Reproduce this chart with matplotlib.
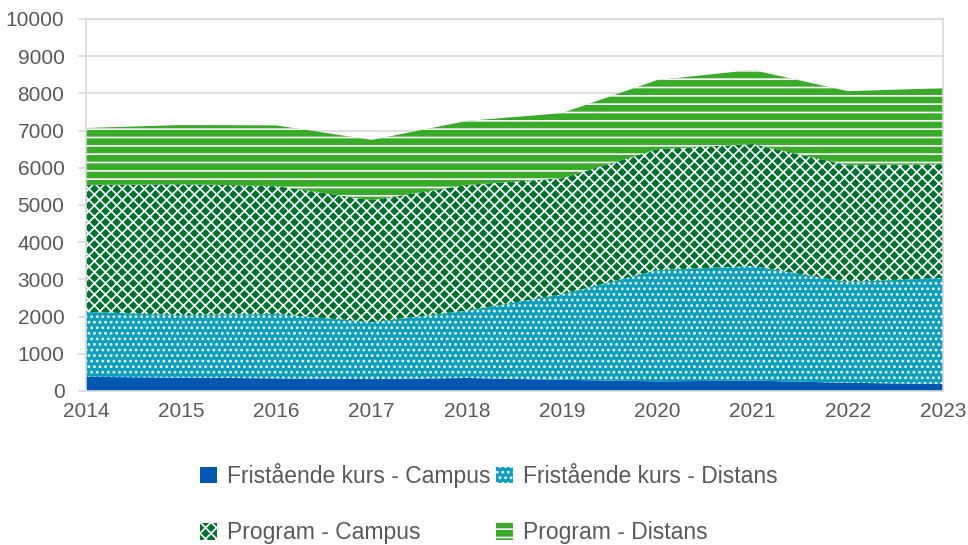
import numpy as np
import matplotlib.pyplot as plt
from matplotlib.ticker import MultipleLocator

plt.rcParams['font.family'] = ['Liberation Sans', 'DejaVu Sans']
plt.rcParams['hatch.color'] = 'white'
plt.rcParams['hatch.linewidth'] = 1.2

years = [2014, 2015, 2016, 2017, 2018, 2019, 2020, 2021, 2022, 2023]
fk_campus = [380, 360, 340, 320, 350, 300, 260, 280, 220, 190]
fk_distans = [1750, 1680, 1730, 1530, 1810, 2300, 2990, 3080, 2710, 2850]
prog_campus = [3410, 3520, 3440, 3280, 3380, 3120, 3250, 3280, 3140, 3060]
prog_distans = [1530, 1590, 1630, 1620, 1720, 1750, 1860, 1990, 1990, 2040]

labels = ["Fristående kurs - Campus", "Fristående kurs - Distans",
          "Program - Campus", "Program - Distans"]
colors = ["#0056b3", "#0aa0be", "#00722e", "#3aaa2a"]
hatches = ["", "...", "xxx", "--"]

fig = plt.figure(figsize=(9.68, 5.45), dpi=100)
ax = fig.add_axes([86/968, 1-391/545, (943-86)/968, (391-19)/545])

polys = ax.stackplot(years, fk_campus, fk_distans, prog_campus, prog_distans,
                     labels=labels, colors=colors, hatch=hatches, linewidth=0)

ax.set_xlim(2014, 2023)
ax.set_ylim(0, 10000)
ax.yaxis.set_major_locator(MultipleLocator(1000))
ax.set_xticks(years)
ax.grid(axis='y', color='#d9d9d9', linewidth=1.2)
ax.set_axisbelow(True)
for s in ax.spines.values():
    s.set_color('#d9d9d9')
    s.set_linewidth(1.2)
ax.tick_params(axis='y', length=6, color='#d9d9d9', width=1.2,
               labelsize=15, labelcolor='#595959', pad=9.5)
ax.tick_params(axis='x', length=0, labelsize=15, labelcolor='#595959', pad=8)

# legend: two columns, filled column-wise
order = [0, 2, 1, 3]
h = [polys[i] for i in order]
l = [labels[i] for i in order]
fig.legend(h, l, loc='center', bbox_to_anchor=(0.505, 0.076), ncol=2,
           frameon=False, fontsize=16.5, labelcolor='#595959',
           handlelength=0.75, handleheight=0.75, handletextpad=0.45,
           columnspacing=0.2, labelspacing=1.45)

fig.savefig("out.png", dpi=100)
